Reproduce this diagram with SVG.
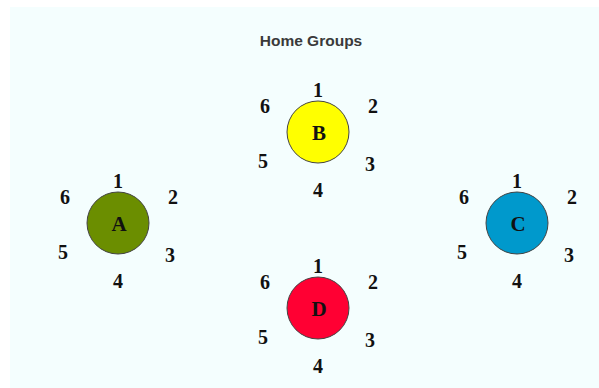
<svg xmlns="http://www.w3.org/2000/svg" width="599" height="388" viewBox="0 0 599 388">
<style>
.bg{fill:#f4fefe}
.title{font-family:"Liberation Sans",Arial,sans-serif;font-weight:bold;font-size:15.5px;fill:#3a3a3a;text-anchor:middle}
.c{stroke:#444;stroke-width:1}
.lbl{font-family:"Liberation Serif","Times New Roman",serif;font-weight:bold;font-size:21px;fill:#111;text-anchor:middle}
.n{font-family:"Liberation Serif","Times New Roman",serif;font-weight:bold;font-size:20px;fill:#111;text-anchor:middle}
</style>
<defs>
<g id="nums">
<text class="n" x="0" y="-35">1</text>
<text class="n" x="55" y="-19">2</text>
<text class="n" x="52" y="39">3</text>
<text class="n" x="0" y="65">4</text>
<text class="n" x="-55" y="36">5</text>
<text class="n" x="-53" y="-19">6</text>
</g>
</defs>
<rect class="bg" x="10" y="7" width="589" height="381"/>
<text class="title" x="311" y="46">Home Groups</text>
<g id="node-A" transform="translate(118,223)">
<circle class="c" r="31" fill="#6b8e00"/>
<text class="lbl" x="1" y="8">A</text>
<use href="#nums"/>
</g>
<g id="node-B" transform="translate(318,132)">
<circle class="c" r="31" fill="#ffff00"/>
<text class="lbl" x="1" y="8">B</text>
<use href="#nums"/>
</g>
<g id="node-C" transform="translate(517,223)">
<circle class="c" r="31" fill="#0099cc"/>
<text class="lbl" x="1" y="8">C</text>
<use href="#nums"/>
</g>
<g id="node-D" transform="translate(318,308)">
<circle class="c" r="31" fill="#ff0033"/>
<text class="lbl" x="1" y="8">D</text>
<use href="#nums"/>
</g>
<g id="connectors"/>
</svg>
